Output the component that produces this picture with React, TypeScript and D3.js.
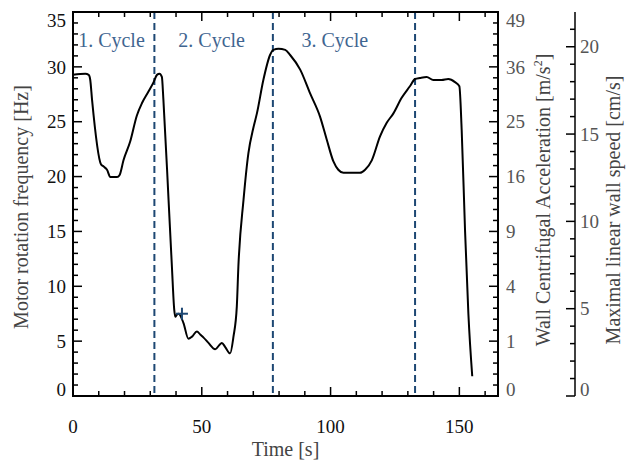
import React from "react";
import * as d3 from "d3";

// ---- data ----
const timeS = [0, 4.8, 6.1, 6.7, 7.4, 10.9, 11.9, 13.2, 14.5, 17.1, 18.1, 19.6, 22.2, 24.8, 26.8, 29.3, 31.3, 32.6, 33.6, 34.5, 35.1, 37.1, 38.4, 39.3, 39.7, 40.3, 41.0, 42.9, 44.8, 46.2, 48.1, 49.4, 50.7, 52.6, 55.2, 57.8, 59.1, 61.0, 62.3, 63.6, 64.2, 66.2, 68.1, 70.1, 71.4, 73.9, 76.5, 77.8, 79.8, 82.4, 84.3, 88.2, 92.1, 95.9, 98.5, 101.1, 103.0, 105.0, 111.4, 113.4, 116.0, 119.2, 121.8, 124.4, 127.6, 130.8, 132.8, 134.7, 137.3, 139.9, 143.1, 145.7, 148.3, 150.0, 150.9, 152.2, 153.5, 155.0];
const freqHz = [29.27, 29.37, 29.27, 28.8, 26.99, 21.1, 20.91, 20.62, 19.96, 19.96, 20.15, 21.48, 23.19, 25.57, 26.71, 27.75, 28.61, 29.27, 29.37, 29.08, 26.99, 17.87, 11.78, 7.88, 7.22, 7.41, 7.5, 6.65, 5.22, 5.41, 5.89, 5.6, 5.32, 4.84, 4.27, 4.84, 4.46, 3.89, 5.41, 8.17, 11.78, 17.87, 22.14, 24.52, 25.76, 28.8, 31.08, 31.55, 31.65, 31.55, 31.08, 29.75, 27.56, 25.47, 23.38, 21.38, 20.62, 20.34, 20.34, 20.62, 21.48, 23.66, 24.9, 25.76, 27.18, 28.23, 28.89, 28.99, 29.08, 28.8, 28.8, 28.89, 28.61, 28.23, 24.24, 15.11, 7.5, 1.8];

const cycleBoundaries = [31.6, 77.6, 132.8];
const cycleLabels = ["1. Cycle", "2. Cycle", "3. Cycle"];
const cycleLabelT = [2.0, 40.9, 88.7];

const markerT = [42.3];
const markerF = [7.5];

const xTicks = [0, 50, 100, 150];
const fTicks = [0, 5, 10, 15, 20, 25, 30, 35];
const accelLabels = ["0", "1", "4", "9", "16", "25", "36", "49"];
const speedTicks = [0, 5, 10, 15, 20];

const W = 629, H = 463;
const L = 73, R = 498, T = 12, B = 396;
const SPEED_X = 575;
const F_MAX = 35;
const SPEED_MAX = 21.99; // speed at F_MAX (2*pi*0.1 cm * 35 Hz)

export default function App() {
  const x = d3.scaleLinear().domain([0, 165]).range([L, R]);
  const y = d3.scaleLinear().domain([0, F_MAX]).range([B, T]);
  const ys = d3.scaleLinear().domain([0, SPEED_MAX]).range([B, T]);

  const line = d3.line<number>()
    .x((_, i) => x(timeS[i]))
    .y((d) => y(d))
    .curve(d3.curveMonotoneX);

  const xMinor = d3.range(0, 166, 10);
  const fMinor = d3.range(1, 35, 1);
  const sMinor = d3.range(1, 22, 1);

  const font = "'Liberation Serif', 'Times New Roman', serif";
  const blue = "#1d4773";
  const labelBlue = "#3f6590";

  // keep end labels inside the frame
  const nudge = (py: number) => Math.min(B - 7, Math.max(T + 8, py));

  return (
    <svg width={W} height={H} style={{ position: "absolute", left: 0, top: 0, background: "#fff" }} fontFamily={font}>
      {cycleBoundaries.map((t, i) => (
        <line key={"cb" + i} x1={x(t)} x2={x(t)} y1={T} y2={B} stroke={blue} strokeWidth={2} strokeDasharray="7,4" />
      ))}
      {cycleLabels.map((s, i) => (
        <text key={"cl" + i} x={x(cycleLabelT[i])} y={47} fontSize={20} fill={labelBlue}>{s}</text>
      ))}

      <path d={line(freqHz) || ""} fill="none" stroke="#000" strokeWidth={2} strokeLinejoin="round" />

      {markerT.map((t, i) => (
        <g key={"m" + i} stroke={blue} strokeWidth={2}>
          <line x1={x(t) - 6} x2={x(t) + 6} y1={y(markerF[i])} y2={y(markerF[i])} />
          <line x1={x(t)} x2={x(t)} y1={y(markerF[i]) - 6} y2={y(markerF[i]) + 6} />
        </g>
      ))}

      <rect x={L} y={T} width={R - L} height={B - T} fill="none" stroke="#000" strokeWidth={2} />

      {xMinor.map((t) => {
        const len = t % 50 === 0 ? 9 : 5;
        return (
          <g key={"xt" + t} stroke="#000" strokeWidth={1.5}>
            <line x1={x(t)} x2={x(t)} y1={B} y2={B - len} />
            <line x1={x(t)} x2={x(t)} y1={T} y2={T + len} />
          </g>
        );
      })}
      {xTicks.map((t) => (
        <text key={"xl" + t} x={x(t)} y={433} fontSize={19} textAnchor="middle" fill="#111">{t}</text>
      ))}
      <text x={(L + R) / 2} y={456} fontSize={20} textAnchor="middle" fill="#444">Time [s]</text>

      {fMinor.map((f) => {
        const len = f % 5 === 0 ? 9 : 5;
        return (
          <g key={"yt" + f} stroke="#000" strokeWidth={1.5}>
            <line x1={L} x2={L + len} y1={y(f)} y2={y(f)} />
            <line x1={R} x2={R - len} y1={y(f)} y2={y(f)} />
          </g>
        );
      })}
      {fTicks.map((f) => (
        <text key={"yl" + f} x={66} y={nudge(y(f))} dy="0.35em" fontSize={19} textAnchor="end" fill="#111">{f}</text>
      ))}
      {fTicks.map((f, i) => (
        <text key={"al" + f} x={506} y={nudge(y(f))} dy="0.35em" fontSize={19} textAnchor="start" fill="#555">{accelLabels[i]}</text>
      ))}
      <text transform={`translate(28,207) rotate(-90)`} fontSize={20} textAnchor="middle" fill="#444">Motor rotation frequency [Hz]</text>
      <text transform={`translate(550,200) rotate(-90)`} fontSize={20} textAnchor="middle" fill="#444">
        Wall Centrifugal Acceleration [m/s<tspan dy="-8" fontSize={12}>2</tspan><tspan dy="8">]</tspan>
      </text>

      <line x1={SPEED_X} x2={SPEED_X} y1={T} y2={B} stroke="#000" strokeWidth={1.5} />
      <line x1={SPEED_X} x2={SPEED_X - 9} y1={B} y2={B} stroke="#000" strokeWidth={1.5} />
      {sMinor.map((v) => {
        const len = v % 5 === 0 ? 9 : 5;
        return <line key={"st" + v} x1={SPEED_X} x2={SPEED_X - len} y1={ys(v)} y2={ys(v)} stroke="#000" strokeWidth={1.5} />;
      })}
      {speedTicks.map((v) => (
        <text key={"sl" + v} x={580} y={nudge(ys(v))} dy="0.35em" fontSize={19} textAnchor="start" fill="#555">{v}</text>
      ))}
      <text transform={`translate(620,210) rotate(-90)`} fontSize={20} textAnchor="middle" fill="#444">Maximal linear wall speed [cm/s]</text>
    </svg>
  );
}
